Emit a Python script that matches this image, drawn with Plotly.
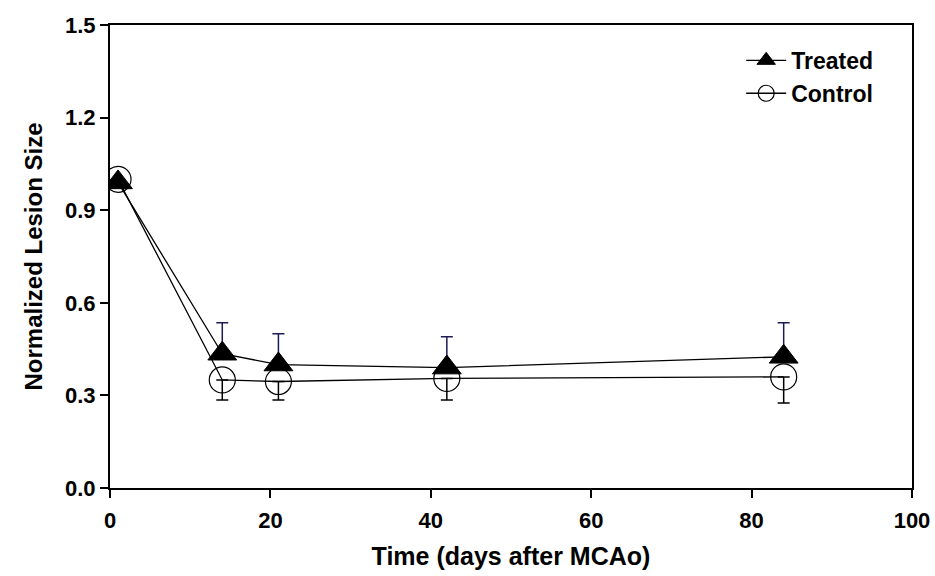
import plotly.graph_objects as go

days = [1, 14, 21, 42, 84]
treated = [0.99, 0.435, 0.40, 0.39, 0.425]
treated_err_up = [0.0, 0.10, 0.10, 0.10, 0.11]
control = [1.0, 0.35, 0.345, 0.355, 0.36]
control_err_down = [0.0, 0.065, 0.06, 0.07, 0.085]

x_ticks = [0, 20, 40, 60, 80, 100]
y_ticks = [0.0, 0.3, 0.6, 0.9, 1.2, 1.5]

FONT = "Liberation Sans, Arial, sans-serif"

fig = go.Figure()
fig.add_trace(go.Scatter(
    x=days, y=treated, name="Treated", mode="lines+markers",
    line=dict(color="black", width=1.3),
    marker=dict(symbol="triangle-up", size=25, color="black", line=dict(color="black", width=1)),
    error_y=dict(type="data", symmetric=False, array=treated_err_up,
                 arrayminus=[0]*len(days), color="#1c1c55", thickness=1.5, width=6),
))
fig.add_trace(go.Scatter(
    x=days, y=control, name="Control", mode="lines+markers",
    line=dict(color="black", width=1.3),
    marker=dict(symbol="circle-open", size=26, color="black", line=dict(color="black", width=1.2)),
    error_y=dict(type="data", symmetric=False, array=[0]*len(days),
                 arrayminus=control_err_down, color="black", thickness=1.5, width=6),
))

fig.update_layout(
    width=935, height=576,
    margin=dict(l=110, r=23, t=25, b=88),
    paper_bgcolor="white", plot_bgcolor="white",
    font=dict(family=FONT, color="black", size=22),
    showlegend=True,
    legend=dict(x=0.787, y=0.97, xanchor="left", yanchor="top",
                font=dict(family=FONT, size=23, color="black", weight="bold"),
                bgcolor="rgba(0,0,0,0)", tracegroupgap=0, itemwidth=40),
)
fig.update_xaxes(
    range=[0, 100], tickvals=x_ticks, ticktext=[str(v) for v in x_ticks],
    showline=True, linecolor="black", linewidth=2, mirror=True,
    ticks="outside", ticklen=8, tickwidth=1.5, tickcolor="black",
    showgrid=False, zeroline=False, automargin=False, ticklabelstandoff=4,
    tickfont=dict(family=FONT, size=22, weight="bold"),
    title=dict(text="Time (days after MCAo)", font=dict(family=FONT, size=25, weight="bold")),
)
fig.update_yaxes(
    range=[0, 1.5], tickvals=y_ticks, ticktext=[f"{v:.1f}" for v in y_ticks],
    showline=True, linecolor="black", linewidth=2, mirror=True,
    ticks="outside", ticklen=8, tickwidth=1.5, tickcolor="black",
    showgrid=False, zeroline=False,
    tickfont=dict(family=FONT, size=22, weight="bold"),
    title=dict(text="Normalized Lesion Size", font=dict(family=FONT, size=24, weight="bold"), standoff=16),
)

fig.write_html("out.html")
